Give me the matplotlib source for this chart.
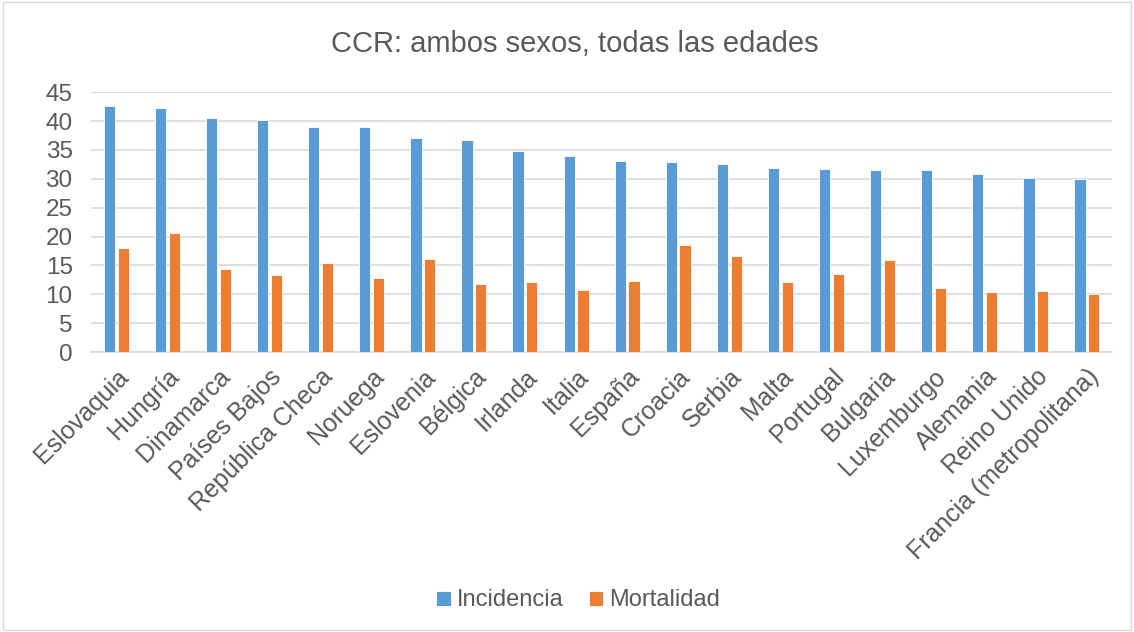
import numpy as np
import matplotlib
matplotlib.use("Agg")
import matplotlib.pyplot as plt
from matplotlib.patches import Rectangle

plt.rcParams['font.family'] = ['Liberation Sans', 'DejaVu Sans']

paises = ["Eslovaquia", "Hungría", "Dinamarca", "Países Bajos", "República Checa",
          "Noruega", "Eslovenia", "Bélgica", "Irlanda", "Italia", "España",
          "Croacia", "Serbia", "Malta", "Portugal", "Bulgaria", "Luxemburgo",
          "Alemania", "Reino Unido", "Francia (metropolitana)"]
incidencia = [42.7, 42.3, 40.5, 40.2, 38.9, 38.9, 37.0, 36.7, 34.9, 33.9, 33.1,
              32.9, 32.6, 31.9, 31.7, 31.5, 31.5, 30.9, 30.2, 30.0]
mortalidad = [18.0, 20.7, 14.4, 13.4, 15.4, 12.9, 16.1, 11.8, 12.2, 10.8, 12.3,
              18.6, 16.6, 12.1, 13.5, 15.9, 11.1, 10.4, 10.6, 10.1]

azul = "#5B9BD5"
naranja = "#ED7D31"
gris = "#595959"

fig = plt.figure(figsize=(11.34, 6.32), dpi=100)
ax = fig.add_axes([0.080, 0.443, 0.901, 0.411])

x = np.arange(len(paises))
w = 0.22
ax.bar(x - 0.135, incidencia, w, color=azul, edgecolor="white", linewidth=0.6,
       label="Incidencia", zorder=3)
ax.bar(x + 0.135, mortalidad, w, color=naranja, edgecolor="white", linewidth=0.6,
       label="Mortalidad", zorder=3)

ax.set_xlim(-0.5, len(paises) - 0.5)
ax.set_ylim(0, 45)
ax.set_yticks(range(0, 50, 5))
ax.yaxis.grid(True, color="#D9D9D9", linewidth=1.2, zorder=0)
ax.tick_params(axis="y", length=0, labelsize=17.5, labelcolor=gris, pad=13)
ax.tick_params(axis="x", length=0, labelsize=18, labelcolor=gris, pad=9)
ax.set_xticks(x)
ax.set_xticklabels(paises, rotation=45, ha="right", rotation_mode="anchor")
for s in ["top", "right", "left"]:
    ax.spines[s].set_visible(False)
ax.spines["bottom"].set_color("#D9D9D9")
ax.spines["bottom"].set_linewidth(1.2)

fig.suptitle("CCR: ambos sexos, todas las edades", x=0.507, y=0.952,
             fontsize=21, color=gris)

fig.legend(loc="center", bbox_to_anchor=(0.510, 0.05), ncol=2, frameon=False,
           fontsize=17, labelcolor=gris, handlelength=0.6, handleheight=0.6,
           handletextpad=0.25, columnspacing=1.1)

fig.patches.append(Rectangle((0.003, 0.003), 0.994, 0.994, transform=fig.transFigure,
                             fill=False, edgecolor="#D9D9D9", linewidth=1.0))

fig.savefig("out.png", dpi=100, facecolor="white")
